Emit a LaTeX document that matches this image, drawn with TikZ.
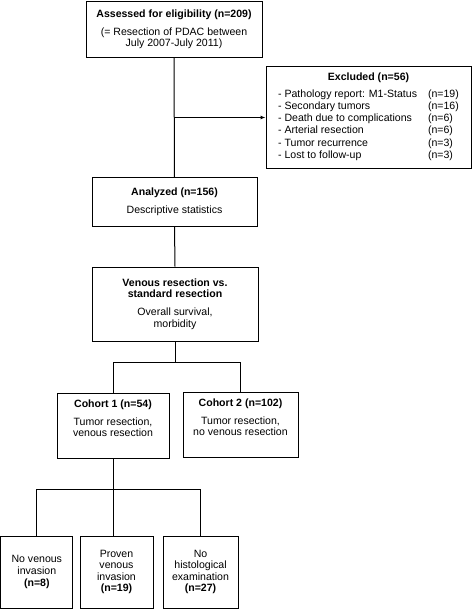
\documentclass[tikz,border=0pt]{standalone}
\usepackage{fontspec}
\setmainfont{Liberation Sans}
\usetikzlibrary{arrows.meta,calc}
\begin{document}
\begin{tikzpicture}[x=1bp,y=-1bp,
  box/.style={draw, line width=1bp, align=center, inner sep=0pt,
    font=\fontsize{10.6}{11.6}\selectfont},
  conn/.style={line width=1bp}]
\useasboundingbox (0,0) rectangle (473,609);

\node[box, minimum width=176bp, minimum height=56bp] (assess) at (174,29.5)
  {\textbf{Assessed for eligibility (n=209)}\\[6pt](= Resection of PDAC between\\July 2007-July 2011)};

\node[box, minimum width=205bp, minimum height=101bp] (excl) at (368.5,117.5)
  {\textbf{Excluded (n=56)}\\[5pt]
   {\fontsize{10.6}{12.2}\selectfont
   \begin{tabular}{@{}l@{\hspace{11bp}}l@{}}
   - Pathology report: M1-Status & (n=19)\\
   - Secondary tumors & (n=16)\\
   - Death due to complications & (n=6)\\
   - Arterial resection & (n=6)\\
   - Tumor recurrence & (n=3)\\
   - Lost to follow-up & (n=3)
   \end{tabular}}};

\node[box, minimum width=165bp, minimum height=48bp] (anal) at (174.5,202)
  {\textbf{Analyzed (n=156)}\\[6pt]Descriptive statistics};

\node[box, minimum width=166bp, minimum height=74bp] (ven) at (175,304)
  {\textbf{Venous resection vs.}\\\textbf{standard resection}\\[6pt]Overall survival,\\morbidity};

\node[box, minimum width=112bp, minimum height=65bp] (coh1) at (113,425.5)
  {\textbf{Cohort 1 (n=54)}\\[6pt]Tumor resection,\\venous resection\\[3pt]~};

\node[box, minimum width=115bp, minimum height=65bp] (coh2) at (240.5,424.5)
  {\textbf{Cohort 2 (n=102)}\\[6pt]Tumor resection,\\no venous resection\\[3pt]~};

\begin{scope}[every node/.append style={font=\fontsize{10.6}{12.3}\selectfont}]
\node[box, minimum width=72bp, minimum height=72bp] (bA) at (36.8,572)
  {No venous\\invasion\\\textbf{(n=8)}};
\node[box, minimum width=73bp, minimum height=72bp] (bB) at (116.5,572)
  {Proven\\venous\\invasion\\\textbf{(n=19)}};
\node[box, minimum width=75bp, minimum height=72bp] (bC) at (200.5,572)
  {No\\histological\\examination\\\textbf{(n=27)}};
\end{scope}

% connectors
\draw[conn] (assess.south) -- (anal.north);
\coordinate (ej) at (assess.south |- excl.west);
\draw[conn, -{Latex[length=5bp,width=4bp]}] (ej) -- (excl.west);
\draw[conn] (anal.south) -- (ven.north);
\draw[conn] (ven.south) -- ++(0,21) coordinate (vj);
\draw[conn] (coh1.north) |- (vj) -| (coh2.north);
\draw[conn] (coh1.south) -- (coh1.south |- bB.north);
\draw[conn] (bA.north) -- ++(0,-46) -| (bC.north);
\end{tikzpicture}
\end{document}
